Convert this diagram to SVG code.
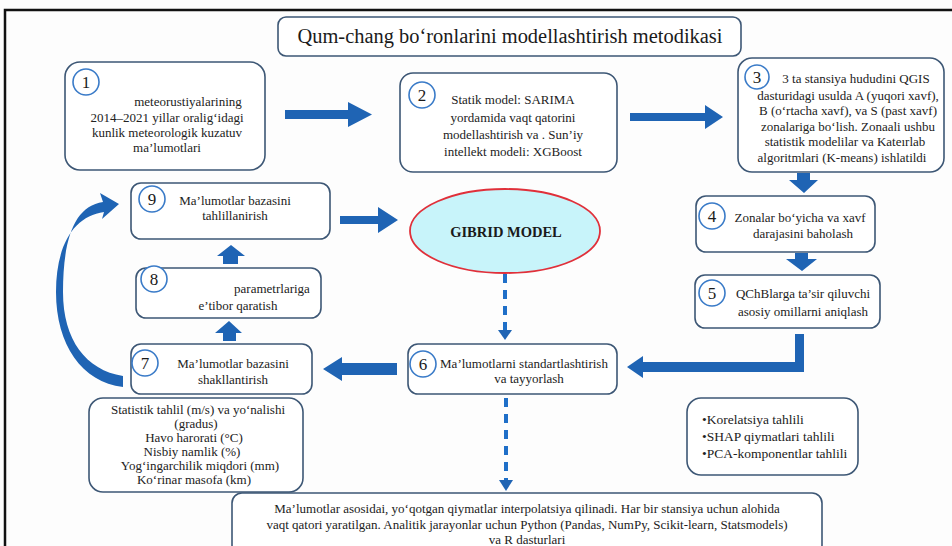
<svg xmlns="http://www.w3.org/2000/svg" width="952" height="546" viewBox="0 0 952 546">
<defs>
<style>
.box{fill:#fff;stroke:#3d5775;stroke-width:1.6}
.num{fill:#fff;stroke:#3a7bc8;stroke-width:1.6}
.nt{font-family:"Liberation Serif","Times New Roman",serif;font-size:17px;fill:#1a1a1a;text-anchor:middle}
.t{font-family:"Liberation Serif","Times New Roman",serif;font-size:13px;fill:#222;text-anchor:middle}
.tl{font-family:"Liberation Serif","Times New Roman",serif;font-size:13.5px;fill:#222}
.arr{fill:#1f64b4}
.dash{stroke:#1f6fc8;stroke-width:4;stroke-dasharray:9 7;fill:none}
</style>
</defs>
<rect x="0" y="0" width="952" height="546" fill="#fdfdfd"/>
<path d="M5,546 V10 H952" fill="none" stroke="#111" stroke-width="2.5"/>

<g id="title">
<rect x="278" y="17" width="463" height="39" rx="8" class="box"/>
<text x="510" y="43" font-family="Liberation Serif,serif" font-size="20" fill="#1a1a1a" text-anchor="middle" textLength="425" lengthAdjust="spacingAndGlyphs">Qum-chang bo‘ronlarini modellashtirish metodikasi</text>
</g>

<g id="connectors">
<path class="arr" d="M285,110 H348 V102 L372,114.5 L348,127 V119 H285 Z"/>
<path class="arr" d="M630,113 H705 V105 L723,117 L705,129 V121 H630 Z"/>
<path class="arr" d="M797,173 H810 V180 H818 L804,193 L789,180 H797 Z"/>
<path class="arr" d="M795,253 H808 V259 H817 L802,271 L786,259 H795 Z"/>
<path class="arr" d="M795,334 H804 V372 H643 V378 L627,367 L643,356 V362 H795 Z"/>
<path class="arr" d="M397,363 H342 V357 L323,369 L342,381 V375 H397 Z"/>
<path class="arr" d="M223,341 V333 H215 L229,321 L242,333 H236 V341 Z"/>
<path class="arr" d="M223,264 V256 H217 L231,245 L245,256 H238 V264 Z"/>
<path class="arr" d="M340,216 H378 V207 L398,220 L378,233 V224 H340 Z"/>
<path class="arr" d="M123,387 C82,382 56,345 56,292 C56,245 74,216 104,212 L102,219 L119,204 L100,193 L103,202 C74,206 63,240 63,292 C63,340 86,370 123,376 Z"/>
<line class="dash" x1="505" y1="274" x2="505" y2="331"/>
<path class="arr" d="M498,330 H512 L505,340 Z" fill="#1f6fc8"/>
<line class="dash" x1="506" y1="398" x2="506" y2="481"/>
<path class="arr" d="M499,480 H513 L506,491 Z"/>
</g>

<g id="node1">
<rect x="65" y="62" width="200" height="108" rx="15" class="box"/>
<circle cx="86" cy="82" r="13" class="num"/>
<text x="86" y="88" class="nt">1</text>
<text class="t" font-size="12.8"><tspan x="188" y="106">meteorustiyalarining</tspan><tspan x="167" y="122">2014–2021 yillar oralig‘idagi</tspan><tspan x="167" y="137">kunlik meteorologik kuzatuv</tspan><tspan x="167" y="152">ma’lumotlari</tspan></text>
</g>

<g id="node2">
<rect x="400" y="73" width="217" height="99" rx="13" class="box"/>
<circle cx="422" cy="95" r="13" class="num"/>
<text x="422" y="101" class="nt">2</text>
<text class="t" font-size="14"><tspan x="513" y="104">Statik model: SARIMA</tspan><tspan x="513" y="122">yordamida vaqt qatorini</tspan><tspan x="513" y="139">modellashtirish va . Sun’iy</tspan><tspan x="513" y="156">intellekt modeli: XGBoost</tspan></text>
</g>

<g id="node3">
<rect x="738" y="58" width="206" height="114" rx="14" class="box"/>
<circle cx="757" cy="77" r="12" class="num"/>
<text x="757" y="83" class="nt">3</text>
<text class="t" font-size="12.3"><tspan x="856" y="83">3 ta stansiya hududini QGIS</tspan><tspan x="848" y="100">dasturidagi usulda A (yuqori xavf),</tspan><tspan x="848" y="115">B (o‘rtacha xavf), va S (past xavf)</tspan><tspan x="848" y="131">zonalariga bo‘lish. Zonaali ushbu</tspan><tspan x="845" y="146">statistik modelilar va Kateırlab</tspan><tspan x="842" y="162">algoritmlari (K-means) ishlatildi</tspan></text>
</g>

<g id="node4">
<rect x="696" y="196" width="179" height="56" rx="10" class="box"/>
<circle cx="712" cy="216" r="13" class="num"/>
<text x="712" y="222" class="nt">4</text>
<text class="t" font-size="13.5"><tspan x="800" y="222">Zonalar bo‘yicha va xavf</tspan><tspan x="803" y="238">darajasini baholash</tspan></text>
</g>

<g id="node5">
<rect x="695" y="275" width="185" height="53" rx="10" class="box"/>
<circle cx="712" cy="293" r="13" class="num"/>
<text x="712" y="299" class="nt">5</text>
<text class="t" font-size="13.5"><tspan x="803" y="298">QChBlarga ta’sir qiluvchi</tspan><tspan x="803" y="316">asosiy omillarni aniqlash</tspan></text>
</g>

<g id="gibrid">
<ellipse cx="505" cy="231" rx="95" ry="42" fill="#c8f4fa" stroke="#e0303a" stroke-width="1.8"/>
<text x="506" y="237" font-family="Liberation Serif,serif" font-size="14.5" font-weight="bold" fill="#1a1a1a" text-anchor="middle">GIBRID MODEL</text>
</g>

<g id="node6">
<rect x="408" y="344" width="209" height="50" rx="10" class="box"/>
<circle cx="423" cy="364" r="13" class="num"/>
<text x="423" y="370" class="nt">6</text>
<text class="t" font-size="12.8"><tspan x="524" y="368">Ma’lumotlarni standartlashtirish</tspan><tspan x="529" y="383">va tayyorlash</tspan></text>
</g>

<g id="node7">
<rect x="131" y="344" width="181" height="50" rx="10" class="box"/>
<circle cx="145" cy="363" r="13" class="num"/>
<text x="145" y="369" class="nt">7</text>
<text class="t" font-size="13.5"><tspan x="233" y="368">Ma’lumotlar bazasini</tspan><tspan x="233" y="384">shakllantirish</tspan></text>
</g>

<g id="node8">
<rect x="136" y="268" width="185" height="50" rx="10" class="box"/>
<circle cx="154" cy="279" r="13" class="num"/>
<text x="154" y="285" class="nt">8</text>
<text class="t" font-size="13.5"><tspan x="272" y="293">parametrlariga</tspan><tspan x="238" y="310">e’tibor qaratish</tspan></text>
</g>

<g id="node9">
<rect x="131" y="183" width="199" height="56" rx="10" class="box"/>
<circle cx="152" cy="199" r="13" class="num"/>
<text x="152" y="205" class="nt">9</text>
<text class="t" font-size="13"><tspan x="235" y="205">Ma’lumotlar bazasini</tspan><tspan x="235" y="220">tahlillanirish</tspan></text>
</g>

<g id="params">
<rect x="89" y="398" width="214" height="94" rx="14" class="box"/>
<text class="t" font-size="12.2"><tspan x="198" y="414">Statistik tahlil (m/s) va yo‘nalishi</tspan><tspan x="196" y="428">(gradus)</tspan><tspan x="194" y="442">Havo harorati (°C)</tspan><tspan x="192" y="456">Nisbiy namlik (%)</tspan><tspan x="200" y="470">Yog‘ingarchilik miqdori (mm)</tspan><tspan x="194" y="484">Ko‘rinar masofa (km)</tspan></text>
</g>

<g id="analysis">
<rect x="687" y="398" width="171" height="77" rx="14" class="box"/>
<text class="tl"><tspan x="702" y="424">•Korelatsiya tahlili</tspan><tspan x="702" y="441">•SHAP qiymatlari tahlili</tspan><tspan x="702" y="458">•PCA-komponentlar tahlili</tspan></text>
</g>

<g id="tools">
<rect x="232" y="493" width="590" height="62" rx="10" class="box"/>
<text class="t" font-size="13.3"><tspan x="527" y="513">Ma’lumotlar asosidai, yo‘qotgan qiymatlar interpolatsiya qilinadi. Har bir stansiya uchun alohida</tspan><tspan x="527" y="529">vaqt qatori yaratilgan. Analitik jarayonlar uchun Python (Pandas, NumPy, Scikit-learn, Statsmodels)</tspan><tspan x="527" y="544">va R dasturlari</tspan></text>
</g>
</svg>
